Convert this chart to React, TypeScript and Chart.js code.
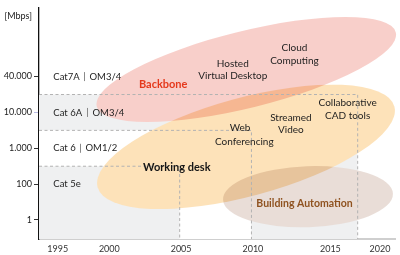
import React, { useEffect, useRef } from 'react';
import { Chart, registerables } from 'chart.js';

Chart.register(...registerables);

// ---- axis ranges (x: year, y: bandwidth level, equally spaced steps) ----
const X_MIN = 1995.2;
const X_MAX = 2020;
const Y_MIN = -0.53;
const Y_MAX = 5.93;

// y axis: bandwidth steps (equally spaced on the chart)
const yTickLevels = [0, 1, 2, 3, 4, 5.69];
const yTickLabels = ['1', '100', '1.000', '10.000', '40.000', '[Mbps]'];

// x axis: years (label placement in year units)
const xTickAt = [1996.5, 2000.1, 2005.1, 2010.1, 2015.5, 2018.95];
const xTickLabels = ['1995', '2000', '2005', '2010', '2015', '2020'];

// cabling bands: top level of each band and the year where it ends
const cableNames = ['Cat 6A', 'Cat 6', 'Cat 5e'];
const cableTopLevel = [3.5, 2.5, 1.5];
const cableEndYear = [2017.4, 2010, 2005];

// cabling class labels
const classFirst = ['Cat7A', 'Cat 6A', 'Cat 6', 'Cat 5e'];
const classSecond = ['OM3/4', 'OM3/4', 'OM1/2', ''];
const classLevel = [4, 3, 2, 1];
const classYear = 1996.2;

// application areas (ellipses)
const areaNames = ['Working desk', 'Building Automation', 'Backbone'];
const areaCenterYear = [2009.62, 2013.94, 2009.64];
const areaCenterLevel = [2.04, 0.65, 4.2];
const areaHalfYears = [10.71, 5.92, 10.73];
const areaHalfLevels = [1.37, 0.85, 1.07];
const areaTiltDeg = [-15.2, -2, -13.9];
const areaLabelYear = [2004.8, 2013.7, 2003.85];
const areaLabelLevel = [1.47, 0.455, 3.77];

// applications
const appTexts = ['Hosted', 'Virtual Desktop', 'Cloud', 'Computing', 'Collaborative', 'CAD tools', 'Streamed', 'Video', 'Web', 'Conferencing'];
const appYears = [2008.7, 2008.7, 2013.0, 2013.0, 2016.7, 2016.7, 2012.75, 2012.75, 2009.2, 2009.5];
const appLevels = [4.37, 4.03, 4.81, 4.44, 3.27, 2.92, 2.84, 2.51, 2.56, 2.18];

// ---- styles ----
const FONT = 'Lato, "DejaVu Sans", sans-serif';
const cableFills = ['#eff0f1', '#ffffff', '#eff0f1'];
const cableOrder = [3, 2, 1];
const areaColors = ['#fde2b9', '#e9ddd7', '#f8cfca'];
const areaLabelColors = ['#161616', '#8f521f', '#e5391c'];
const areaLabelSizes = [11, 10.5, 11];

const areasPlugin = {
  id: 'areas',
  beforeDatasetsDraw(chart: any) {
    const { ctx, scales } = chart;
    const x = scales.x;
    const y = scales.y;
    const pxX = (x.getPixelForValue(X_MAX) - x.getPixelForValue(X_MIN)) / (X_MAX - X_MIN);
    const pxY = (y.getPixelForValue(Y_MIN) - y.getPixelForValue(Y_MAX)) / (Y_MAX - Y_MIN);
    const path = (i: number) => {
      ctx.beginPath();
      ctx.ellipse(
        x.getPixelForValue(areaCenterYear[i]),
        y.getPixelForValue(areaCenterLevel[i]),
        areaHalfYears[i] * pxX,
        areaHalfLevels[i] * pxY,
        (areaTiltDeg[i] * Math.PI) / 180,
        0,
        Math.PI * 2
      );
    };
    ctx.save();
    ctx.fillStyle = '#ffffff';
    areaNames.forEach((_, i) => { path(i); ctx.fill(); });
    ctx.globalCompositeOperation = 'multiply';
    areaNames.forEach((_, i) => { ctx.fillStyle = areaColors[i]; path(i); ctx.fill(); });
    ctx.restore();
  },
};

const textPlugin = {
  id: 'texts',
  afterDatasetsDraw(chart: any) {
    const { ctx, scales } = chart;
    const x = scales.x;
    const y = scales.y;
    ctx.save();
    ctx.textBaseline = 'middle';
    // class labels
    classFirst.forEach((t, i) => {
      const px = x.getPixelForValue(classYear);
      const py = y.getPixelForValue(classLevel[i]);
      ctx.font = `9.5px ${FONT}`;
      ctx.fillStyle = '#1e1e1e';
      ctx.textAlign = 'left';
      ctx.fillText(t, px, py);
      if (classSecond[i]) {
        const w = ctx.measureText(t).width;
        const bx = Math.round(px + w + 4.5) + 0.5;
        ctx.strokeStyle = '#8a8a8a';
        ctx.lineWidth = 1;
        ctx.beginPath();
        ctx.moveTo(bx, py - 4.5);
        ctx.lineTo(bx, py + 4.5);
        ctx.stroke();
        ctx.fillText(classSecond[i], bx + 5, py);
      }
    });
    // application texts
    ctx.textAlign = 'center';
    ctx.font = `10px ${FONT}`;
    ctx.fillStyle = '#1e1e1e';
    appTexts.forEach((t, i) => {
      ctx.fillText(t, x.getPixelForValue(appYears[i]), y.getPixelForValue(appLevels[i]));
    });
    // area labels
    areaNames.forEach((t, i) => {
      ctx.font = `bold ${areaLabelSizes[i]}px ${FONT}`;
      ctx.fillStyle = areaLabelColors[i];
      ctx.fillText(t, x.getPixelForValue(areaLabelYear[i]), y.getPixelForValue(areaLabelLevel[i]));
    });
    ctx.restore();
  },
};

export default function App() {
  const ref = useRef<HTMLCanvasElement>(null);
  useEffect(() => {
    const datasets = cableNames.map((name, i) => ({
      label: name,
      data: [
        { x: X_MIN, y: cableTopLevel[i] },
        { x: cableEndYear[i], y: cableTopLevel[i] },
        { x: cableEndYear[i], y: Y_MIN },
      ],
      borderColor: '#b2b2b2',
      borderWidth: 1,
      borderDash: [3, 2.5],
      backgroundColor: cableFills[i],
      fill: 'start',
      pointRadius: 0,
      order: cableOrder[i],
    }));
    const chart = new Chart(ref.current as HTMLCanvasElement, {
      type: 'line',
      data: { datasets } as any,
      options: {
        animation: false,
        responsive: false,
        maintainAspectRatio: false,
        devicePixelRatio: 1,
        events: [],
        layout: { padding: { top: 3, right: 5, left: 0, bottom: 0 } },
        plugins: {
          legend: { display: false },
          tooltip: { enabled: false },
          filler: { drawTime: 'beforeDatasetsDraw' },
        },
        scales: {
          x: {
            type: 'linear',
            min: X_MIN,
            max: X_MAX,
            bounds: 'data',
            z: 1,
            afterBuildTicks: (s: any) => { s.ticks = xTickAt.map((v) => ({ value: v })); },
            afterFit: (s: any) => { s.height = 16; },
            grid: { display: false, drawTicks: false },
            border: { display: true, color: '#cfcfcf', width: 2 },
            ticks: {
              padding: 5,
              autoSkip: false,
              maxRotation: 0,
              color: '#333',
              font: { family: FONT, size: 9 },
              callback: (_v: any, i: number) => xTickLabels[i],
            },
          },
          y: {
            type: 'linear',
            min: Y_MIN,
            max: Y_MAX,
            bounds: 'data',
            z: 1,
            afterBuildTicks: (s: any) => { s.ticks = yTickLevels.map((v) => ({ value: v })); },
            afterFit: (s: any) => { s.width = 39; },
            grid: {
              drawOnChartArea: false,
              drawTicks: true,
              tickLength: 5,
              tickWidth: 1,
              tickColor: (c: any) => (c.index === 5 ? 'rgba(0,0,0,0)' : c.index === 3 ? '#b9bbe3' : '#333'),
            },
            border: { display: true, color: '#111', width: 1.3 },
            ticks: {
              padding: 2,
              autoSkip: false,
              color: '#222',
              font: { family: FONT, size: 9 },
              callback: (_v: any, i: number) => yTickLabels[i],
            },
          },
        },
      } as any,
      plugins: [areasPlugin, textPlugin],
    });
    return () => chart.destroy();
  }, []);
  return (
    <div style={{ position: 'fixed', left: 0, top: 0, width: 400, height: 255, background: '#fff' }}>
      <canvas ref={ref} width={400} height={255} style={{ display: 'block', width: 400, height: 255 }} />
    </div>
  );
}
